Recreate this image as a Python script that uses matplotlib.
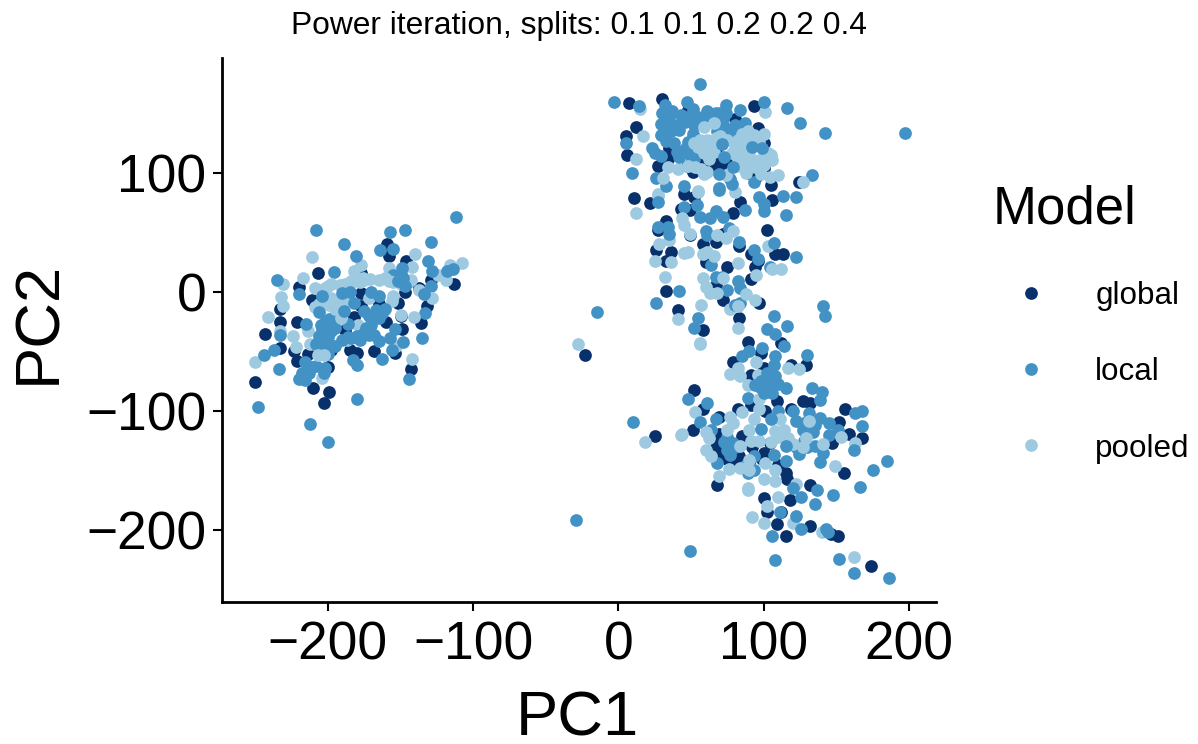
import numpy as np
import matplotlib
matplotlib.use("Agg")
import matplotlib.pyplot as plt

plt.rcParams['font.family'] = ['Liberation Sans', 'DejaVu Sans']

# values as (PC1, PC2)
global_pts = [
    # left cluster
    (-159,40),(-158,30),(-146,26),(-207,16),(-220,4),(-233,-14),(-233,-25),(-221,-25),(-243,-35),(-233,-47),
    (-223,-50),(-221,-58),(-214,-52),(-250,-76),(-210,-81),(-199,-84),(-203,-93),(-185,-49),(-180,-51),(-168,-50),
    (-154,-51),(-160,-25),(-149,-31),(-136,-26),(-132,-12),(-143,-65),(-113,7),(-137,3),(-147,0),(-129,10),
    (-211,-7),(-177,-1),(-188,-32),(-182,-21),(-152,-9),(-200,-63),(-198,-49),(-177,16),(-177,-12),(-165,-10),
    (-150,-20),
    # outliers
    (-23,-53),(25,-121),
    # top cluster
    (7.5,159),(30,162),(93,156),(12,139),(5,131),(6,115),(27,106),(35,121),(34,112),(105,90),
    (124,92),(100,125),(96,138),(80,145),(88,103),(100,104),(51,101),(67,105),(58,108),(95,97),
    (48,153),(68,122),(65,110),(70,105),(55,103),(75,110),(90,100),
    # middle
    (11,79),(22,75),(45,82),(52,80),(43,70),(49,69),(79,66),(84,76),(106,77),(33,60),
    (27,52),(26,35),(36,34),(33,26),(49,48),(58,40),(67,42),(72,49),(83,39),(102,52),
    (91,32),(108,32),(113,32),(96,26),(94,21),(60,25),(75,21),(91,11),(67,6),(33,1),
    (72,-7),(97,-9),(41,-15),(83,-22),(58,-32),
    # bottom cluster
    (89,-42),(112,-43),(79,-59),(129,-61),(119,-61),(98,-51),(52,-82),(58,-98),(69,-105),(82,-98),
    (119,-98),(127,-92),(132,-93),(156,-98),(152,-109),(159,-119),(168,-123),(51,-116),(69,-119),(67,-130),
    (71,-138),(83,-138),(99,-140),(85,-121),(147,-127),(155,-152),(68,-162),(115,-152),(116,-157),(132,-162),
    (104,-127),(91,-70),(100,-64),(109,-92),(91,-95),(101,-100),(70,-125),(75,-140),(80,-145),(90,-143),
    (110,-145),(112,-148),(100,-135),(92,-130),
    (100,-173),(118,-175),(112,-185),(102,-185),(109,-195),(132,-197),(115,-205),(146,-203),(151,-205),(174,-230),
]

local_pts = [
    # left cluster
    (-208,52),(-189,40),(-181,30),(-157,50),(-147,52),(-112,63),(-129,42),(-164,35),(-155,36),(-131,26),
    (-128,18),(-196,17),(-235,10),(-220,-2),(-129,5),(-133,-18),(-215,-27),(-202,-25),(-199,-23),(-204,-32),
    (-186,-27),(-170,-28),(-174,-30),(-172,-36),(-184,-39),(-190,-40),(-180,-37),(-165,-41),(-157,-39),(-154,-31),
    (-148,-42),(-135,-39),(-156,-49),(-163,-56),(-183,-57),(-180,-61),(-233,-36),(-237,-49),(-244,-53),(-234,-65),
    (-216,-59),(-218,-68),(-216,-74),(-211,-63),(-202,-64),(-203,-68),(-206,-37),(-202,-46),(-199,-44),(-180,-90),
    (-248,-97),(-212,-111),(-200,-126),(-144,-73),(-204,-42),(-195,-30),(-200,-38),(-208,-44),(-205,-28),(-195,-20),
    (-198,-33),(-168,-36),(-176,-35),(-186,-38),(-178,-40),(-155,14),(-150,15),(-145,8),(-205,-52),(-213,-68),
    (-208,-62),(-220,-73),(-195,-45),(-200,-52),
    # outliers
    (-15,-17),(10,-109),(-29,-192),(197,134),
    # top cluster
    (56,175),(-3,160),(14,156),(32,157),(47,160),(51,154),(74,157),(84,153),(100,160),(116,155),
    (125,142),(142,134),(61,152),(67,150),(35,147),(43,149),(29,141),(38,140),(46,143),(29,132),
    (36,135),(42,136),(51,133),(38,125),(48,126),(5,125),(23,121),(25,117),(29,114),(49,115),
    (47,106),(72,145),(68,135),(77,136),(83,136),(87,142),(77,95),(78,91),(93,92),(9,100),
    (26,96),(33,89),(45,89),(69,87),(133,98),(30,150),(37,152),(47,147),(33,137),
    (52,140),(55,147),(50,122),(56,120),(46,120),(33,127),(60,147),
    (70,150),(73,139),(78,130),(65,145),(74,150),(80,140),(40,118),(52,112),
    # middle
    (27,76),(45,71),(54,73),(69,86),(87,69),(100,68),(97,80),(100,74),(113,81),(122,80),
    (115,65),(56,63),(63,62),(67,68),(72,63),(27,55),(34,55),(35,49),(60,51),(61,48),
    (76,54),(83,42),(107,41),(93,35),(96,28),(122,29),(104,21),(64,23),(67,13),(71,13),
    (82,9),(84,3),(75,2),(42,1),(26,-9),(84,-9),(80,-11),(55,-22),(52,-30),(107,-20),
    (102,-31),(116,-29),(108,-35),(141,-12),(142,-20),
    # bottom cluster
    (99,-47),(114,-45),(90,-50),(85,-54),(108,-54),(107,-61),(130,-53),(98,-81),(105,-82),(115,-81),
    (89,-89),(133,-81),(140,-84),(139,-91),(48,-90),(61,-93),(67,-107),(56,-109),(64,-116),(110,-100),
    (120,-100),(131,-102),(129,-109),(139,-106),(145,-110),(151,-116),(163,-102),(168,-100),(168,-113),(127,-116),
    (134,-118),(73,-126),(79,-127),(77,-137),(135,-129),(124,-136),(141,-135),(139,-143),(162,-133),(93,-138),
    (68,-144),(89,-152),(175,-150),(185,-142),(166,-164),(120,-165),(137,-166),(80,-130),(75,-133),(75,-122),
    (88,-145),(93,-150),(122,-108),(128,-125),(122,-130),(135,-112),(145,-120),(130,-130),
    (126,-172),(148,-171),(135,-178),(111,-185),(122,-188),(126,-199),(106,-205),(143,-199),(144,-202),(49,-218),
    (108,-225),(152,-224),(162,-236),(186,-240),
]

# these local points sit above the pooled ones
local_top = [
    (-114,19),(-118,18),(-204,-3),(-185,0),(-190,-1),(-182,-9),(-170,0),(-165,-3),(-149,20),(-148,12),
    (-152,9),(-147,5),(-134,-2),(-189,-16),(-206,-17),(-175,-16),(-167,-15),(-161,-14),(-165,-22),(-168,-22),
    (-172,-20),(-163,-18),
    (42,113),(71,124),(73,113),(92,122),(99,121),(79,105),(69,99),
    (108,-71),(103,-74),(106,-85),(98,-75),(103,-80),(100,-85),(94,-78),(110,-77),(102,-68),
    (105,-107),(98,-115),(115,-129),(107,-137),(115,-142),
]

# drawn under the local points
pooled_low = [
    (-211,29),(-140,32),(-177,23),(-182,18),(-142,21),(-158,20),(-108,24),(-116,23),(-124,14),(-119,10),
    (-217,12),(-231,7),(-232,-4),(-231,-12),(-241,-21),(-156,-8),(-179,-28),(-214,-33),(-224,-37),(-222,-46),
    (-233,-33),(-212,-44),(-204,-72),(-153,-45),(-142,-56),(-250,-59),(-187,-40),
    (-28,-44),(18,-126),(44,-119),
    (15,154),(101,151),(17,131),(12,112),(27,82),(55,85),(80,84),
    (27,81),(12,66),(55,84),(28,40),(35,44),(103,39),(25,26),(32,13),(82,-30),(56,-43),(77,-14),(57,-11),
    (56,-44),(117,-64),(124,-65),(53,-101),(43,-120),(163,-127),(149,-146),
    (89,-166),(110,-172),(122,-161),(92,-189),(100,-194),(120,-194),(140,-202),(162,-223),
]

# drawn over the local points
pooled_top = [
    # left cluster band
    (-209,3),(-198,7),(-202,3),(-188,7),(-182,9),(-171,11),(-165,10),(-158,9),(-143,10),(-128,-5),
    (-137,2),(-141,-21),(-150,-19),(-172,-5),(-199,-11),(-195,-14),(-209,-13),(-191,-22),(-207,-53),(-203,-53),
    (-184,9),(-195,-9),(-192,6),(-178,8),(-175,10),(-161,12),(-176,12),(-190,4),(-200,5),(-205,2),
    (-206,-10),(-192,-10),(-198,-5),(-155,8),(-150,7),(-188,-8),(-155,-3),
    # top cluster
    (59,139),(66,142),(100,133),(89,135),(85,128),(80,122),(82,112),(61,128),(56,128),(67,129),
    (59,117),(64,119),(34,105),(41,103),(53,105),(59,99),(61,101),(74,98),(105,115),(106,111),
    (97,111),(92,107),(98,99),(104,97),(110,98),(127,92),(31,96),(88,122),(83,118),(85,120),
    (90,115),(86,108),(95,128),(90,128),(85,133),(93,132),(97,126),(82,128),(88,113),(78,117),
    (84,106),(55,122),(60,123),(62,112),(65,125),(70,131),(52,125),(75,128),(66,118),(48,106),
    (57,103),(100,113),(103,117),(94,105),(88,100),(100,107),
    # middle
    (44,62),(45,56),(49,49),(68,48),(79,51),(74,45),(45,33),(48,34),(58,32),(61,34),
    (66,30),(36,25),(82,24),(58,12),(72,12),(95,14),(106,19),(112,19),(60,4),(63,-1),
    (68,-1),(88,-2),(94,-7),(82,-12),(41,-23),
    # bottom cluster
    (95,-59),(82,-64),(77,-69),(84,-71),(96,-70),(89,-78),(97,-90),(97,-98),(85,-101),(77,-105),
    (79,-110),(75,-116),(60,-118),(62,-123),(93,-107),(90,-116),(91,-125),(97,-125),(84,-129),(60,-133),
    (64,-138),(105,-126),(114,-116),(117,-123),(129,-123),(127,-130),(141,-128),(153,-122),(131,-108),(111,-107),
    (90,-141),(101,-144),(76,-149),(69,-155),(84,-148),(90,-150),(108,-150),(100,-157),(108,-159),(89,-165),
    (102,-180),(108,-117),(120,-128),(110,-122),
]

model_colors = {"global": "#08306B", "local": "#4292C6", "pooled": "#9ECAE1"}
x_ticks = [-200, -100, 0, 100, 200]
y_ticks = [-200, -100, 0, 100]


def draw(ax, pts, model, order):
    arr = np.array(pts)
    return ax.scatter(arr[:, 0], arr[:, 1], s=84, color=model_colors[model], linewidths=0, zorder=order)


fig = plt.figure(figsize=(11.98, 7.44), dpi=100)
ax = fig.add_axes([222 / 1198, 1 - 602 / 744, 714 / 1198, 544 / 744])

h_global = draw(ax, global_pts, "global", 2)
draw(ax, pooled_low, "pooled", 3)
h_local = draw(ax, local_pts, "local", 4)
h_pooled = draw(ax, pooled_top, "pooled", 5)
draw(ax, local_top, "local", 6)

ax.set_xlim(-272.9, 218.6)
ax.set_ylim(-260.5, 196.6)
ax.set_xticks(x_ticks)
ax.set_yticks(y_ticks)
ax.tick_params(labelsize=38.3, length=6.3, width=1.5, color="black", labelcolor="black", pad=5)
ax.tick_params(axis="x", pad=7)
for side in ["top", "right"]:
    ax.spines[side].set_visible(False)
for side in ["left", "bottom"]:
    ax.spines[side].set_linewidth(2)

ax.set_xlabel("PC1", fontsize=45.5, labelpad=14, x=0.498)
ax.set_ylabel("PC2", fontsize=45.5, labelpad=13, y=0.513)
ax.set_title("Power iteration, splits: 0.1 0.1 0.2 0.2 0.4", fontsize=22.9, pad=17)

leg = ax.legend([h_global, h_local, h_pooled], list(model_colors), title="Model",
                frameon=False, loc="upper left", bbox_to_anchor=(980 / 1198, 1 - 172 / 744),
                bbox_transform=fig.transFigure, fontsize=22.6, title_fontsize=38,
                alignment="left", labelspacing=1.47, handletextpad=0.82, borderaxespad=0,
                borderpad=0.4, handlelength=2.45)
leg._legend_box.sep = 31.5
for t in leg.get_texts():
    t.set_y(-3)

fig.savefig("out.png", dpi=100)
